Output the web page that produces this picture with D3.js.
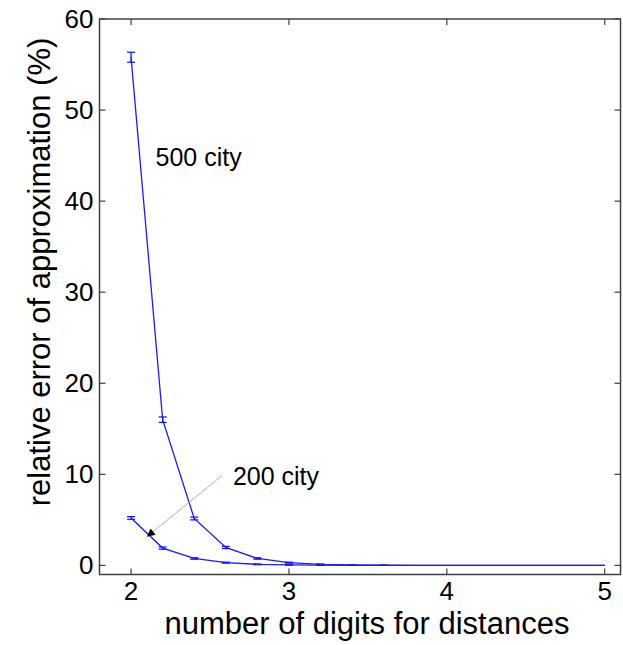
<!DOCTYPE html>
<html lang="en">
<head>
  <meta charset="UTF-8" />
  <title>Relative error vs digits</title>
  <script src="https://d3js.org/d3.v7.min.js"></script>
  <style>
    body { margin:0; padding:0; background:#fff; }
    svg { display:block; font-family:"Liberation Sans", Arial, sans-serif; }
    .tick-label { font-size:26px; fill:#000; }
    .axis-label { font-size:31px; fill:#000; }
    .note { font-size:25px; fill:#000; }
  </style>
</head>
<body>
  <svg width="623" height="645"></svg>
  <script>
  (function(){
    // x values: number of digits for distances
    const digits = [2.0, 2.2, 2.4, 2.6, 2.8, 3.0, 3.2, 3.4, 3.6, 3.8, 4.0, 4.2, 4.4, 4.6, 4.8, 5.0];
    // relative error (%) for each problem size, with spread
    const err500 = [55.8, 16.0, 5.15, 1.97, 0.76, 0.3, 0.12, 0.05, 0.02, 0.01, 0, 0, 0, 0, 0, 0];
    const sd500  = [0.55, 0.3, 0.15, 0.12, 0.08, 0.05, 0.04, 0.02, 0.01, 0, 0, 0, 0, 0, 0, 0];
    const err200 = [5.2, 1.9, 0.76, 0.3, 0.12, 0.05, 0.02, 0.01, 0, 0, 0, 0, 0, 0, 0, 0];
    const sd200  = [0.15, 0.12, 0.08, 0.05, 0.04, 0.02, 0.01, 0, 0, 0, 0, 0, 0, 0, 0, 0];
    const xTicks = [2, 3, 4, 5];
    const yTicks = [0, 10, 20, 30, 40, 50, 60];

    const svg = d3.select("svg");
    const L = 99.5, R = 620.5, T = 19, B = 574.5;
    const x = d3.scaleLinear().domain([1.8, 5.1]).range([L, R]);
    const y = d3.scaleLinear().domain([-1, 60]).range([B, T]);
    const axisCol = "#404040", lineCol = "#1a1aff";

    // box
    svg.append("rect")
      .attr("x", L).attr("y", T).attr("width", R - L).attr("height", B - T)
      .attr("fill", "none").attr("stroke", axisCol).attr("stroke-width", 1.5);

    // ticks (inside, on all four sides)
    const tl = 6;
    xTicks.forEach(t => {
      svg.append("line").attr("x1", x(t)).attr("x2", x(t)).attr("y1", B).attr("y2", B - tl)
        .attr("stroke", axisCol).attr("stroke-width", 1.2);
      svg.append("line").attr("x1", x(t)).attr("x2", x(t)).attr("y1", T).attr("y2", T + tl)
        .attr("stroke", axisCol).attr("stroke-width", 1.2);
      svg.append("text").attr("class", "tick-label")
        .attr("x", x(t)).attr("y", B + 25).attr("text-anchor", "middle").text(t);
    });
    yTicks.forEach(t => {
      svg.append("line").attr("x1", L).attr("x2", L + tl).attr("y1", y(t)).attr("y2", y(t))
        .attr("stroke", axisCol).attr("stroke-width", 1.2);
      svg.append("line").attr("x1", R).attr("x2", R - tl).attr("y1", y(t)).attr("y2", y(t))
        .attr("stroke", axisCol).attr("stroke-width", 1.2);
      svg.append("text").attr("class", "tick-label")
        .attr("x", L - 6).attr("y", y(t) + 9).attr("text-anchor", "end").text(t);
    });

    // axis labels
    svg.append("text").attr("class", "axis-label")
      .attr("x", 367).attr("y", 634).attr("text-anchor", "middle")
      .text("number of digits for distances");
    svg.append("text").attr("class", "axis-label")
      .attr("transform", "translate(50,272) rotate(-90)")
      .attr("text-anchor", "middle")
      .text("relative error of approximation (%)");

    // series
    const line = d3.line().x(d => x(d[0])).y(d => y(d[1]));
    function drawSeries(vals, sds){
      const pts = digits.map((d, i) => [d, vals[i], sds[i]]);
      svg.append("path").datum(pts).attr("d", line)
        .attr("fill", "none").attr("stroke", lineCol).attr("stroke-width", 1.3);
      const cw = 4;
      pts.filter(p => p[2] > 0).forEach(p => {
        const cx = x(p[0]), y1 = y(p[1] + p[2]), y2 = y(p[1] - p[2]);
        svg.append("line").attr("x1", cx).attr("x2", cx).attr("y1", y1).attr("y2", y2)
          .attr("stroke", lineCol).attr("stroke-width", 1.3);
        [y1, y2].forEach(yy => svg.append("line")
          .attr("x1", cx - cw).attr("x2", cx + cw).attr("y1", yy).attr("y2", yy)
          .attr("stroke", lineCol).attr("stroke-width", 1.3));
      });
    }
    drawSeries(err500, sd500);
    drawSeries(err200, sd200);

    // annotations
    svg.append("text").attr("class", "note").attr("x", x(2.155)).attr("y", y(43.9)).text("500 city");
    svg.append("text").attr("class", "note").attr("x", x(2.645)).attr("y", y(8.8)).text("200 city");

    svg.append("defs").append("marker")
      .attr("id", "arrow").attr("viewBox", "0 0 10 10").attr("refX", 10).attr("refY", 5)
      .attr("markerWidth", 10).attr("markerHeight", 8).attr("markerUnits", "userSpaceOnUse")
      .attr("orient", "auto")
      .append("path").attr("d", "M0,0 L10,5 L0,10 z").attr("fill", "#000");
    svg.append("line")
      .attr("x1", x(2.575)).attr("y1", y(9.85)).attr("x2", x(2.1)).attr("y2", y(3.15))
      .attr("stroke", "#b0b0b0").attr("stroke-width", 1)
      .attr("marker-end", "url(#arrow)");
  })();
  </script>
</body>
</html>
